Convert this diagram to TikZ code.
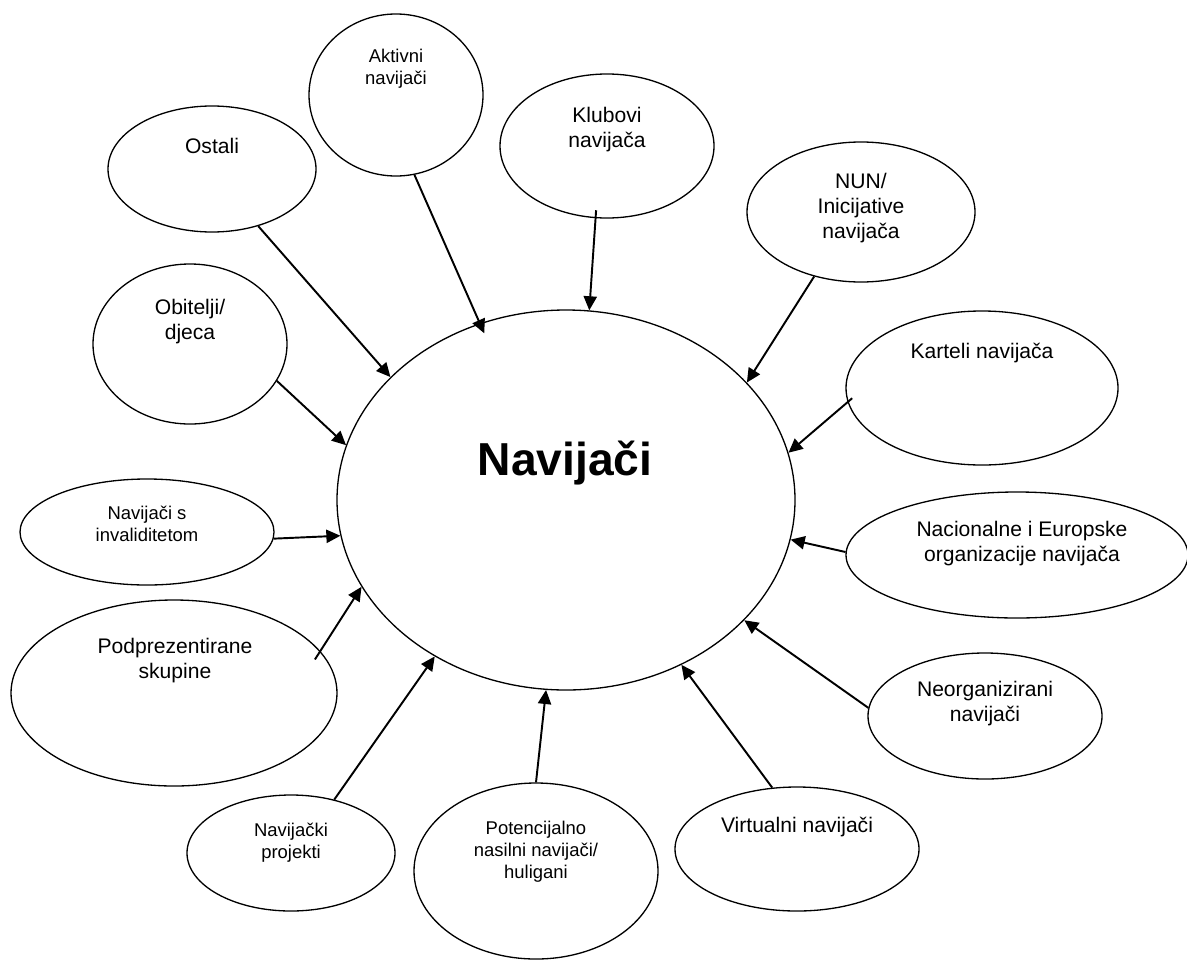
\documentclass[tikz,border=0pt]{standalone}
\usepackage{fontspec}
\setmainfont{Liberation Sans}
\usepackage{tikz}
\usetikzlibrary{arrows.meta, shapes.geometric}

\tikzset{
    bubble/.style={draw, ellipse, line width=0.75pt, inner sep=0pt},
    dims/.style 2 args={minimum width=#1, minimum height=#2},
    lbl/.style={font=\fontsize{12}{14}\selectfont, align=center, inner sep=0pt},
    lblsmall/.style={font=\fontsize{10.5}{12.4}\selectfont, align=center, inner sep=0pt},
    feed/.style={-{Triangle[length=8pt, width=7.5pt]}, line width=1.1pt},
}

\begin{document}
\begin{tikzpicture}[x=0.2mm, y=-0.2mm]
    \useasboundingbox (0,0) rectangle (1187,961);

    % središnji pojam
    \node[bubble, dims={91.6mm}{76mm}] (navijaci) at (566,500) {};
    \node[font=\fontsize{26.3}{30}\selectfont\bfseries, anchor=base, inner sep=0pt] (navijaci-t) at (565,475) {Navijači};

    % skupine navijača
    \node[bubble, dims={34.8mm}{32.4mm}] (aktivni) at (396,95) {};
    \node[lblsmall] (aktivni-t) at (396,68.5) {Aktivni\\navijači};

    \node[bubble, dims={42.8mm}{28.8mm}] (klubovi) at (607,146) {};
    \node[lbl] (klubovi-t) at (607,129.5) {Klubovi\\navijača};

    \node[bubble, dims={41.6mm}{25.2mm}] (ostali) at (212,169) {};
    \node[lbl] (ostali-t) at (212,146) {Ostali};

    \node[bubble, dims={45.6mm}{28mm}] (nun) at (861,212) {};
    \node[lbl] (nun-t) at (861,208) {NUN/\\Inicijative\\navijača};

    \node[bubble, dims={38.8mm}{32mm}] (obitelji) at (190,344) {};
    \node[lbl] (obitelji-t) at (190,321.5) {Obitelji/\\djeca};

    \node[bubble, dims={54.4mm}{30.8mm}] (karteli) at (982,388) {};
    \node[lbl] (karteli-t) at (982,353) {Karteli navijača};

    \node[bubble, dims={50.8mm}{21.2mm}] (invalid) at (147,532) {};
    \node[lblsmall] (invalid-t) at (147,524) {Navijači s\\invaliditetom};

    \node[bubble, dims={68.4mm}{25.2mm}] (nacionalne) at (1017,555) {};
    \node[lbl] (nacionalne-t) at (1022,543.5) {Nacionalne i Europske\\organizacije navijača};

    \node[bubble, dims={65.2mm}{37.2mm}] (podprez) at (174,693) {};
    \node[lbl] (podprez-t) at (175,660.5) {Podprezentirane\\skupine};

    \node[bubble, dims={46.8mm}{25.2mm}] (neorg) at (985,716) {};
    \node[lbl] (neorg-t) at (985,703.5) {Neorganizirani\\navijači};

    \node[bubble, dims={41.6mm}{23.2mm}] (projekti) at (291,853) {};
    \node[lblsmall] (projekti-t) at (291,842.5) {Navijački\\projekti};

    \node[bubble, dims={48.8mm}{35.2mm}] (potenc) at (536,871) {};
    \node[lblsmall] (potenc-t) at (536,852) {Potencijalno\\nasilni navijači/\\huligani};

    \node[bubble, dims={48.8mm}{24.8mm}] (virtualni) at (797,849) {};
    \node[lbl] (virtualni-t) at (797,827) {Virtualni navijači};

    % strelice prema središtu
    \draw[feed, shorten >=-2.2mm] (aktivni.283) -- (navijaci.116);
    \draw[feed, shorten <=-1.6mm] (klubovi.261) -- (navijaci.83.5);
    \draw[feed] (ostali.309.5) -- (navijaci.145.8);
    \draw[feed] (obitelji.337.5) -- (navijaci.166.8);
    \draw[feed] (nun.234.3) -- (navijaci.33.9);
    \draw[feed, shorten <=-1.2mm] (karteli.186.3) -- (navijaci.12.6);
    \draw[feed] (invalid.357.3) -- (navijaci.189.8);
    \draw[feed, shorten <=-2mm] (podprez.16.5) -- (navijaci.203.7);
    \draw[feed] (projekti.51.6) -- (navijaci.230.3);
    \draw[feed] (potenc.90.7) -- (navijaci.264.1);
    \draw[feed] (nacionalne.179) -- (navijaci.350.3);
    \draw[feed] (neorg.176) -- (navijaci.326.7);
    \draw[feed] (virtualni.112) -- (navijaci.305.5);
\end{tikzpicture}
\end{document}
